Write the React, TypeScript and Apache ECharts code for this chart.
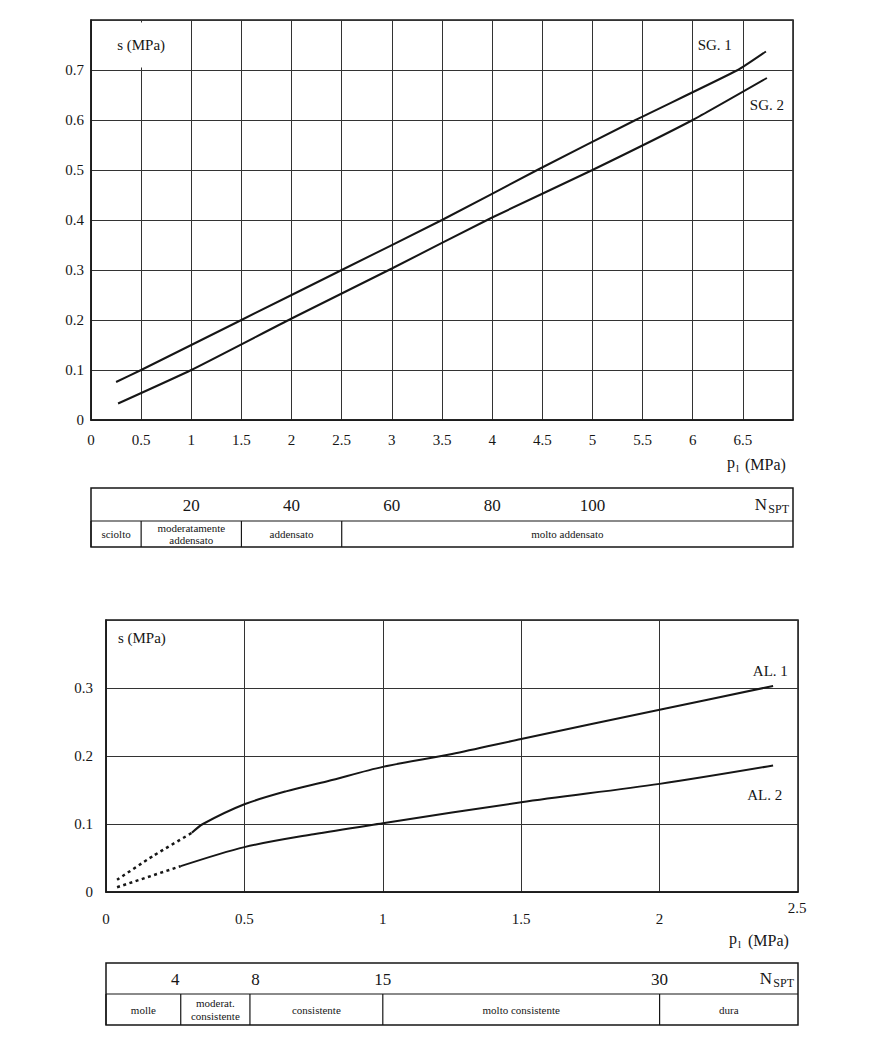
import React, { useEffect, useRef } from 'react';
import * as echarts from 'echarts';

const SERIF = '"Liberation Serif", "Times New Roman", serif';
const INK = '#161616';
const GRIDC = '#333333';

// ---------- Upper chart: gravels / sands (SG) ----------
const sg1P = [0.25, 0.5, 1.5, 2.5, 3.5, 4.45, 5.43, 6.45, 6.73];
const sg1S = [0.076, 0.1, 0.2, 0.3, 0.4, 0.5, 0.6, 0.7, 0.737];
const sg2P = [0.27, 1, 2, 3, 4, 5, 6, 6.74];
const sg2S = [0.033, 0.1, 0.203, 0.303, 0.405, 0.5, 0.6, 0.684];

// ---------- Upper table ----------
const topNspt = [20, 40, 60, 80, 100];
const topNsptAtP = [1, 2, 3, 4, 5];
const topClasses = ['sciolto', 'moderatamente\naddensato', 'addensato', 'molto addensato'];
const topClassEdgesP = [0, 0.5, 1.5, 2.5, 7];

// ---------- Lower chart: clays / silts (AL) ----------
const al1DashP = [0.04, 0.17, 0.31];
const al1DashS = [0.018, 0.053, 0.087];
const al1P = [0.31, 0.35, 0.5, 0.65, 0.8, 1.0, 1.25, 1.5, 2.0, 2.41];
const al1S = [0.087, 0.1, 0.129, 0.148, 0.163, 0.184, 0.203, 0.225, 0.268, 0.303];
const al2DashP = [0.04, 0.27];
const al2DashS = [0.007, 0.038];
const al2P = [0.27, 0.5, 0.75, 1.0, 1.5, 2.0, 2.41];
const al2S = [0.038, 0.066, 0.085, 0.101, 0.132, 0.159, 0.186];

// ---------- Lower table ----------
const botNspt = [4, 8, 15, 30];
const botNsptAtP = [0.25, 0.54, 1.0, 2.0];
const botClasses = ['molle', 'moderat.\nconsistente', 'consistente', 'molto consistente', 'dura'];
const botClassEdgesP = [0, 0.27, 0.52, 1.0, 2.0, 2.5];

const pair = (xs: number[], ys: number[]) => xs.map((x, i) => [x, ys[i]]);
const fmt = (v: number) => String(Math.round(v * 100) / 100);

function tableSeries(idx: number, xMax: number, split: number, nums: number[], numsAt: number[], classes: string[], edges: number[]) {
  const base = { type: 'custom', coordinateSystem: 'cartesian2d', xAxisIndex: idx, yAxisIndex: idx, silent: true, clip: false, z: 5 };
  return [
    {
      ...base,
      data: [[0, xMax]],
      renderItem: (params: any, api: any) => {
        const cs = params.coordSys;
        const xL = api.coord([api.value(0), 0])[0];
        const xR = api.coord([api.value(1), 0])[0];
        const yS = cs.y + cs.height * split;
        const yMid = cs.y + (cs.height * split) / 2;
        return {
          type: 'group',
          children: [
            { type: 'rect', shape: { x: xL, y: cs.y, width: xR - xL, height: cs.height }, style: { fill: 'rgba(0,0,0,0)', stroke: INK, lineWidth: 1.5 } },
            { type: 'line', shape: { x1: xL, y1: yS, x2: xR, y2: yS }, style: { stroke: INK, lineWidth: 1.2 } },
            { type: 'text', style: { text: 'SPT', x: xR - 4, y: yMid + 4, align: 'right', verticalAlign: 'middle', fontSize: 12, fontFamily: SERIF, fill: INK } },
            { type: 'text', style: { text: 'N', x: xR - 26, y: yMid, align: 'right', verticalAlign: 'middle', fontSize: 17, fontFamily: SERIF, fill: INK } },
          ],
        };
      },
    },
    {
      ...base,
      data: numsAt.map((p, i) => [p, nums[i]]),
      renderItem: (params: any, api: any) => {
        const cs = params.coordSys;
        const x = api.coord([api.value(0), 0])[0];
        const yMid = cs.y + (cs.height * split) / 2;
        return { type: 'text', style: { text: String(api.value(1)), x, y: yMid + 1, align: 'center', verticalAlign: 'middle', fontSize: 17, fontFamily: SERIF, fill: INK } };
      },
    },
    {
      ...base,
      data: edges.slice(0, -1).map((e, i) => [e, edges[i + 1]]),
      renderItem: (params: any, api: any) => {
        const cs = params.coordSys;
        const x0 = api.coord([api.value(0), 0])[0];
        const x1 = api.coord([api.value(1), 0])[0];
        const yS = cs.y + cs.height * split;
        const h = cs.y + cs.height - yS;
        return {
          type: 'group',
          children: [
            { type: 'line', shape: { x1: x0, y1: yS, x2: x0, y2: yS + h }, style: { stroke: INK, lineWidth: 1.2 } },
            { type: 'text', style: { text: classes[params.dataIndex], x: (x0 + x1) / 2, y: yS + h / 2, align: 'center', verticalAlign: 'middle', fontSize: 11, lineHeight: 12.5, fontFamily: SERIF, fill: INK } },
          ],
        };
      },
    },
  ];
}

function valueAxis(gridIndex: number, min: number, max: number, interval: number, margin: number, showMax: boolean) {
  return {
    type: 'value', gridIndex, min, max, interval,
    axisLine: { show: true, lineStyle: { color: INK, width: 1.5 } },
    axisTick: { show: false },
    splitLine: { show: true, lineStyle: { color: GRIDC, width: 1 } },
    axisLabel: { margin, fontSize: 15, fontFamily: SERIF, color: INK, showMaxLabel: showMax, formatter: fmt },
  };
}

function hiddenAxis(gridIndex: number, min: number, max: number) {
  return { type: 'value', gridIndex, min, max, show: false, splitLine: { show: false } };
}

const labelPoint = (coord: number[], text: string, extra: any = {}) => ({
  coord,
  symbolSize: 0,
  label: { show: true, position: 'inside', formatter: text, color: INK, fontSize: 15, fontFamily: SERIF, ...extra },
});

export default function App() {
  const ref = useRef<HTMLDivElement>(null);
  useEffect(() => {
    document.body.style.margin = '0';
    const chart = echarts.init(ref.current as HTMLDivElement, null, { renderer: 'svg' });
    const solid = { color: INK, width: 2 };
    const dotted = { color: INK, width: 2.5, type: [3, 3.5] };
    const lineBase = { type: 'line', symbol: 'none', showSymbol: false, silent: true, z: 3 };
    const txt = (text: string, x: number, y: number, size: number, align = 'left') => ({
      type: 'text', x, y, z: 10, style: { text, fontSize: size, fontFamily: SERIF, fill: INK, align, verticalAlign: 'middle' },
    });
    chart.setOption({
      animation: false,
      backgroundColor: '#ffffff',
      grid: [
        { left: 91, top: 20, width: 702, height: 400, show: true, borderColor: INK, borderWidth: 1.5 },
        { left: 91, top: 488, width: 702, height: 59 },
        { left: 106, top: 620, width: 692, height: 272, show: true, borderColor: INK, borderWidth: 1.5 },
        { left: 106, top: 963, width: 692, height: 62 },
      ],
      xAxis: [
        valueAxis(0, 0, 7, 0.5, 12, false),
        hiddenAxis(1, 0, 7),
        valueAxis(2, 0, 2.5, 0.5, 19, false),
        hiddenAxis(3, 0, 2.5),
      ],
      yAxis: [
        valueAxis(0, 0, 0.8, 0.1, 7, false),
        hiddenAxis(1, 0, 1),
        valueAxis(2, 0, 0.4, 0.1, 13, false),
        hiddenAxis(3, 0, 1),
      ],
      series: [
        {
          ...lineBase, name: 'SG. 1', xAxisIndex: 0, yAxisIndex: 0, smooth: 0.15, data: pair(sg1P, sg1S), lineStyle: solid,
          markPoint: {
            silent: true, symbol: 'circle', itemStyle: { color: 'rgba(0,0,0,0)' },
            data: [
              labelPoint([6.22, 0.75], 'SG. 1'),
              labelPoint([0.5, 0.75], 's (MPa)', { backgroundColor: '#ffffff', padding: [15, 6] }),
            ],
          },
        },
        {
          ...lineBase, name: 'SG. 2', xAxisIndex: 0, yAxisIndex: 0, smooth: 0.15, data: pair(sg2P, sg2S), lineStyle: solid,
          markPoint: { silent: true, symbol: 'circle', itemStyle: { color: 'rgba(0,0,0,0)' }, data: [labelPoint([6.74, 0.63], 'SG. 2')] },
        },
        ...tableSeries(1, 7, 33 / 59, topNspt, topNsptAtP, topClasses, topClassEdgesP),
        {
          ...lineBase, name: 'AL. 1', xAxisIndex: 2, yAxisIndex: 2, smooth: 0.3, data: pair(al1P, al1S), lineStyle: solid,
          markPoint: {
            silent: true, symbol: 'circle', itemStyle: { color: 'rgba(0,0,0,0)' },
            data: [
              labelPoint([2.4, 0.325], 'AL. 1'),
              labelPoint([0.043, 0.374], 's (MPa)', { position: 'right', distance: 0 }),
            ],
          },
        },
        { ...lineBase, name: 'AL. 1 (ext.)', xAxisIndex: 2, yAxisIndex: 2, smooth: 0.2, data: pair(al1DashP, al1DashS), lineStyle: dotted },
        {
          ...lineBase, name: 'AL. 2', xAxisIndex: 2, yAxisIndex: 2, smooth: 0.3, data: pair(al2P, al2S), lineStyle: solid,
          markPoint: { silent: true, symbol: 'circle', itemStyle: { color: 'rgba(0,0,0,0)' }, data: [labelPoint([2.38, 0.143], 'AL. 2')] },
        },
        { ...lineBase, name: 'AL. 2 (ext.)', xAxisIndex: 2, yAxisIndex: 2, data: pair(al2DashP, al2DashS), lineStyle: dotted },
        ...tableSeries(3, 2.5, 31 / 62, botNspt, botNsptAtP, botClasses, botClassEdgesP),
      ],
      graphic: [
        txt('p', 727, 462, 16),
        txt('l', 736, 468, 11),
        txt('(MPa)', 745, 464, 16),
        txt('p', 729, 938, 16),
        txt('l', 738, 944, 11),
        txt('(MPa)', 748, 940, 16),
        txt('2.5', 797, 908, 15, 'center'),
      ],
    });
    return () => chart.dispose();
  }, []);
  return <div ref={ref} style={{ width: 880, height: 1050 }} />;
}
